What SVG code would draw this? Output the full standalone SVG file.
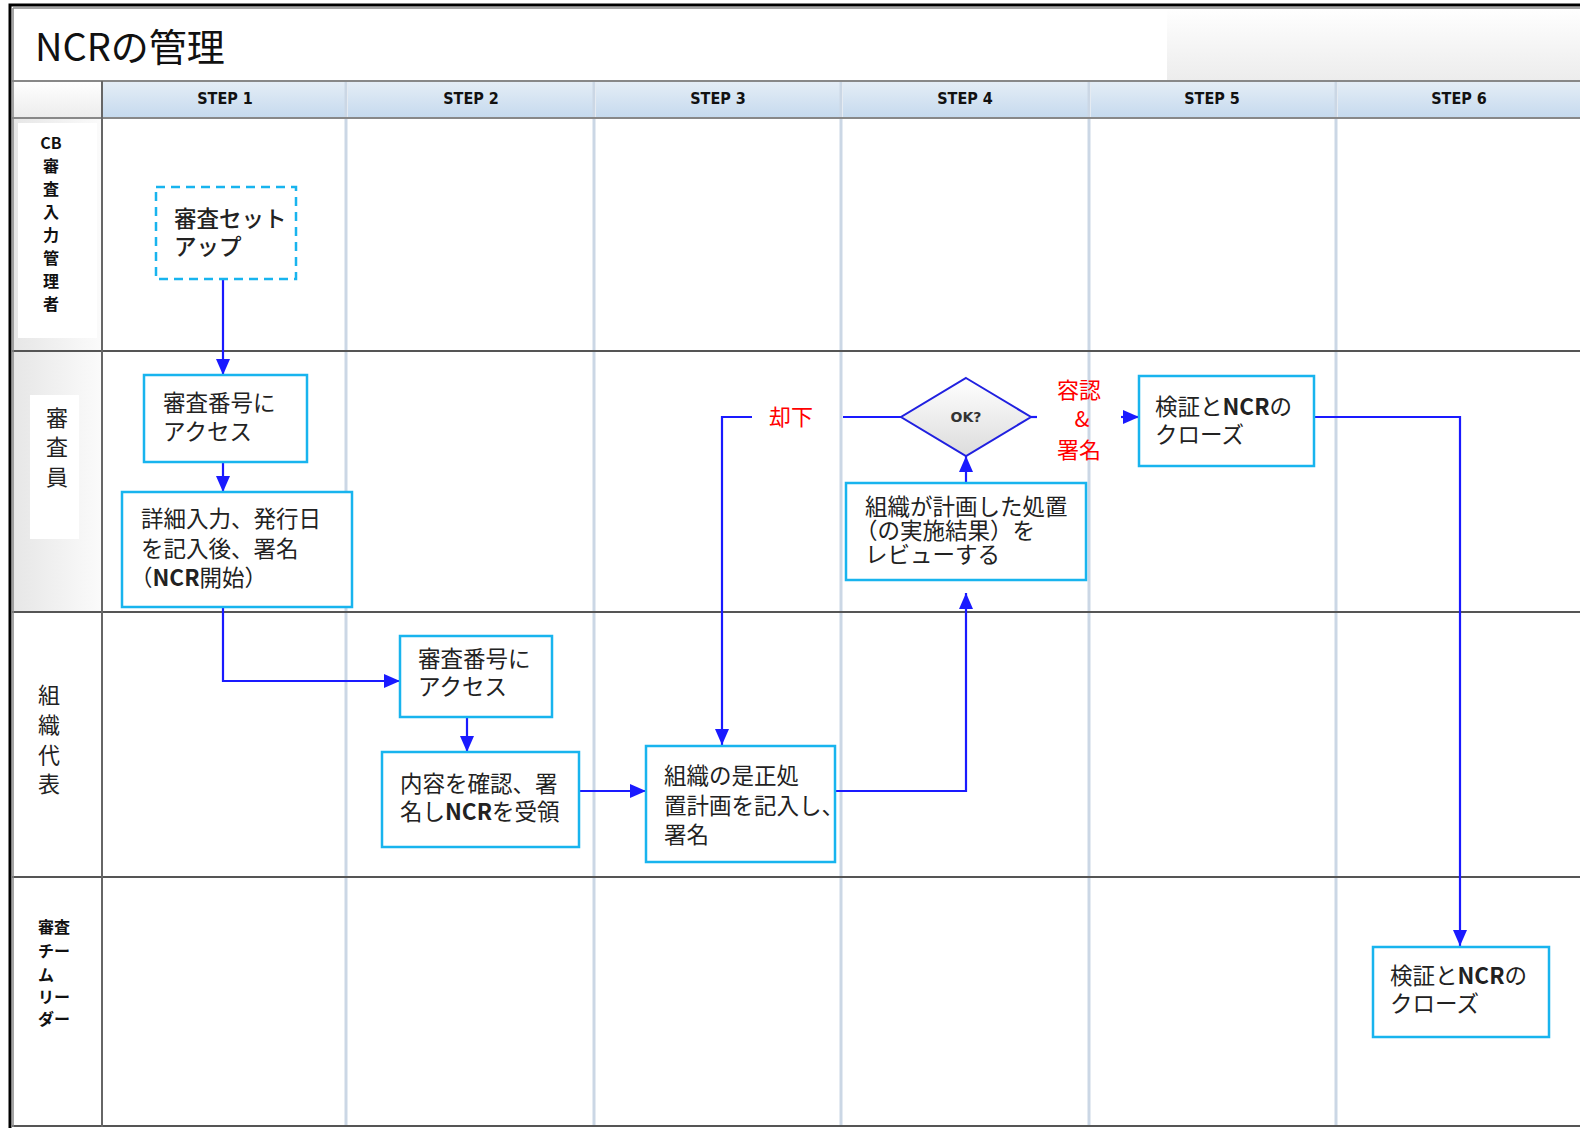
<svg xmlns="http://www.w3.org/2000/svg" width="1580" height="1128" viewBox="0 0 1580 1128">
<style>
.t{font-family:"Noto Sans CJK JP","Noto Sans",sans-serif;fill:#222;font-size:22.5px}
.b{font-weight:bold}
.hdr{font-family:"DejaVu Sans Condensed","DejaVu Sans",sans-serif;font-weight:bold;font-size:16px;fill:#111;text-anchor:middle}
.red{font-family:"Noto Sans CJK JP",sans-serif;fill:#ff0000;font-size:22px;text-anchor:middle}
.box{fill:#fff;stroke:#18b4ee;stroke-width:2.5}
.dash{fill:#fff;stroke:#18b4ee;stroke-width:2.5;stroke-dasharray:9 6}
.col{stroke:#cbd7e5;stroke-width:3;fill:none}
.lane{stroke:#555;stroke-width:2;fill:none}
.con{stroke:#1a1aff;stroke-width:2.2;fill:none}
.lbl{font-family:"Noto Sans CJK JP",sans-serif;fill:#111;font-weight:bold;font-size:16px;text-anchor:middle}
.lbs{font-family:"Noto Sans CJK JP",sans-serif;fill:#111;font-weight:bold;font-size:16px}
.lbl2{font-family:"Noto Sans CJK JP",sans-serif;fill:#222;font-size:22px;text-anchor:middle}
</style>
<defs>
<linearGradient id="hg" x1="0" y1="0" x2="0" y2="1"><stop offset="0" stop-color="#e4edf6"/><stop offset="1" stop-color="#c6daee"/></linearGradient>
<linearGradient id="tg" x1="0" y1="0" x2="0" y2="1"><stop offset="0" stop-color="#ffffff"/><stop offset="1" stop-color="#ececec"/></linearGradient>
<linearGradient id="lg" x1="0" y1="0" x2="1" y2="0"><stop offset="0" stop-color="#e6e6e6"/><stop offset="1" stop-color="#fbfbfb"/></linearGradient>
<linearGradient id="dg" x1="0" y1="0" x2="0" y2="1"><stop offset="0" stop-color="#ffffff"/><stop offset="1" stop-color="#dcdcdc"/></linearGradient>
<marker id="ah" markerWidth="16" markerHeight="14" refX="16" refY="7" orient="auto" markerUnits="userSpaceOnUse"><path d="M0,0 L16,7 L0,14 z" fill="#1a1aff"/></marker>
</defs>
<rect width="1580" height="1128" fill="#fff"/>
<!-- title -->
<rect x="1167" y="8" width="413" height="73" fill="url(#tg)"/>
<text x="35" y="61" font-family="Noto Sans CJK JP,sans-serif" font-size="38" fill="#111">NCRの管理</text>
<!-- header -->
<g id="header">
<rect x="12" y="81" width="90" height="37" fill="url(#tg)"/>
<rect x="103" y="82" width="242" height="35" fill="url(#hg)"/>
<rect x="348" y="82" width="245" height="35" fill="url(#hg)"/>
<rect x="596" y="82" width="244" height="35" fill="url(#hg)"/>
<rect x="843" y="82" width="245" height="35" fill="url(#hg)"/>
<rect x="1091" y="82" width="244" height="35" fill="url(#hg)"/>
<rect x="1338" y="82" width="242" height="35" fill="url(#hg)"/>
<text class="hdr" x="225" y="104">STEP 1</text>
<text class="hdr" x="471" y="104">STEP 2</text>
<text class="hdr" x="718" y="104">STEP 3</text>
<text class="hdr" x="965" y="104">STEP 4</text>
<text class="hdr" x="1212" y="104">STEP 5</text>
<text class="hdr" x="1459" y="104">STEP 6</text>
</g>
<!-- grid -->
<g id="grid">
<rect x="12" y="118" width="90" height="233" fill="url(#lg)"/>
<rect x="18" y="123" width="79" height="215" fill="#fff"/>
<rect x="12" y="351" width="90" height="261" fill="url(#lg)"/>
<rect x="30" y="395" width="49" height="144" fill="#fff"/>
<path class="col" d="M346 81 V1127 M594 81 V1127 M841 81 V1127 M1089 81 V1127 M1336 81 V1127"/>
<path d="M12 81 H1580" stroke="#888" stroke-width="2"/>
<path d="M12 118 H1580" stroke="#888" stroke-width="2"/>
<path class="lane" d="M12 351 H1580 M12 612 H1580 M12 877 H1580 M12 1126 H1580"/>
<path d="M102 81 V1127" stroke="#666" stroke-width="2"/>
<path d="M13 8 V1127 M13 8 H1580" stroke="#888" stroke-width="1.5"/>
<path d="M10 1128 V5 H1580" stroke="#000" stroke-width="3" fill="none"/>
</g>
<!-- lane labels -->
<g id="lane-labels">
<text class="lbl" font-size="13" x="51" y="149">CB</text>
<text class="lbl" x="51" y="172">審</text>
<text class="lbl" x="51" y="195">査</text>
<text class="lbl" x="51" y="218">入</text>
<text class="lbl" x="51" y="241">力</text>
<text class="lbl" x="51" y="264">管</text>
<text class="lbl" x="51" y="287">理</text>
<text class="lbl" x="51" y="310">者</text>
<text class="lbl2" x="57" y="426">審</text>
<text class="lbl2" x="57" y="455">査</text>
<text class="lbl2" x="57" y="485">員</text>
<text class="lbl2" x="49" y="703">組</text>
<text class="lbl2" x="49" y="733">織</text>
<text class="lbl2" x="49" y="763">代</text>
<text class="lbl2" x="49" y="792">表</text>
<text class="lbs" x="38" y="933">審査</text>
<text class="lbs" x="38" y="957">チー</text>
<text class="lbs" x="38" y="981">ム</text>
<text class="lbs" x="38" y="1003">リー</text>
<text class="lbs" x="38" y="1025">ダー</text>
</g>
<!-- connectors -->
<g id="connectors">
<path class="con" d="M223 279 V375" marker-end="url(#ah)"/>
<path class="con" d="M223 462 V492" marker-end="url(#ah)"/>
<path class="con" d="M223 607 V681 H400" marker-end="url(#ah)"/>
<path class="con" d="M467 717 V752" marker-end="url(#ah)"/>
<path class="con" d="M579 791 H646" marker-end="url(#ah)"/>
<path class="con" d="M835 791 H966 V593" marker-end="url(#ah)"/>
<path class="con" d="M966 483 V456" marker-end="url(#ah)"/>
<path class="con" d="M901 417 H843"/>
<path class="con" d="M752 417 H722 V745" marker-end="url(#ah)"/>
<path class="con" d="M1031 417 H1037"/>
<path class="con" d="M1121 417 H1139" marker-end="url(#ah)"/>
<path class="con" d="M1314 417 H1460 V946" marker-end="url(#ah)"/>
<text class="red" x="791" y="425">却下</text>
<text class="red" x="1079" y="398">容認</text>
<text class="red" x="1082" y="427">&amp;</text>
<text class="red" x="1079" y="458">署名</text>
</g>
<!-- nodes -->
<g id="n1"><rect class="dash" x="156" y="187" width="140" height="92"/>
<text class="t" x="174" y="227" font-weight="500">審査セット</text><text class="t" x="174" y="255" font-weight="500">アップ</text></g>
<g id="n2"><rect class="box" x="144" y="375" width="163" height="87"/>
<text class="t" x="163" y="411">審査番号に</text><text class="t" x="163" y="440">アクセス</text></g>
<g id="n3"><rect class="box" x="122" y="492" width="230" height="115"/>
<text class="t" x="141" y="527">詳細入力、発行日</text><text class="t" x="141" y="557">を記入後、署名</text><text class="t" x="130" y="586">（<tspan class="b">NCR</tspan>開始）</text></g>
<g id="n4"><rect class="box" x="400" y="636" width="152" height="81"/>
<text class="t" x="418" y="667">審査番号に</text><text class="t" x="418" y="695">アクセス</text></g>
<g id="n5"><rect class="box" x="382" y="752" width="197" height="95"/>
<text class="t" x="400" y="792">内容を確認、署</text><text class="t" x="400" y="820">名し<tspan class="b">NCR</tspan>を受領</text></g>
<g id="n6"><rect class="box" x="646" y="746" width="189" height="116"/>
<text class="t" x="664" y="784">組織の是正処</text><text class="t" x="664" y="814">置計画を記入し、</text><text class="t" x="664" y="843">署名</text></g>
<g id="n7"><rect class="box" x="846" y="483" width="240" height="97"/>
<text class="t" font-size="20.5" x="865" y="515">組織が計画した処置</text><text class="t" font-size="20.5" x="855" y="539">（の実施結果）を</text><text class="t" font-size="20.5" x="865" y="563">レビューする</text></g>
<g id="n8"><path d="M966 378 L1031 417 L966 456 L901 417 Z" fill="url(#dg)" stroke="#2020e0" stroke-width="2"/>
<text x="966" y="422" text-anchor="middle" font-family="DejaVu Sans,sans-serif" font-weight="bold" font-size="14" fill="#333">OK?</text></g>
<g id="n9"><rect class="box" x="1139" y="376" width="175" height="90"/>
<text class="t" x="1155" y="415">検証と<tspan class="b">NCR</tspan>の</text><text class="t" x="1155" y="443">クローズ</text></g>
<g id="n10"><rect class="box" x="1373" y="947" width="176" height="90"/>
<text class="t" x="1390" y="984">検証と<tspan class="b">NCR</tspan>の</text><text class="t" x="1390" y="1012">クローズ</text></g>
</svg>
